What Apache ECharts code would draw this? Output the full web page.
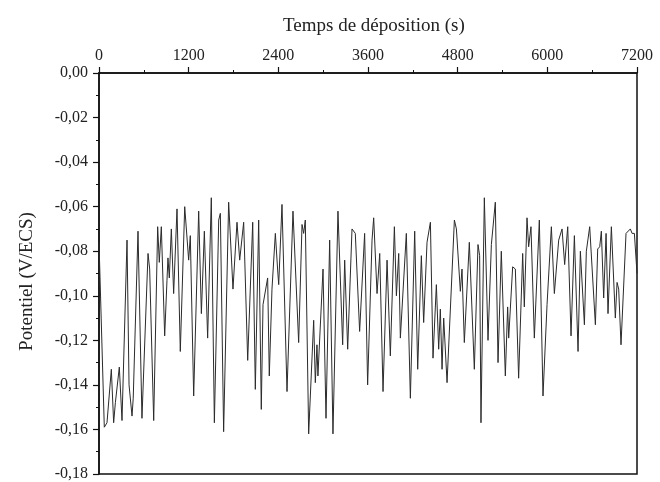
<!DOCTYPE html>
<html>
<head>
<meta charset="utf-8">
<script src="https://cdn.jsdelivr.net/npm/echarts@6/dist/echarts.min.js"></script>
<style>
  html, body { margin: 0; padding: 0; background: #fff; }
  #chart { width: 660px; height: 482px; }
</style>
</head>
<body>
<div id="chart"></div>
<script>
// temps (s) et potentiel (V/ECS)
const times = [
  0, 71, 107, 165, 196, 219, 272, 308, 375, 402, 442, 458, 522, 575, 656, 678,
  732, 785, 807, 834, 879, 910, 923, 941, 968, 999, 1044, 1088, 1147, 1200, 1222, 1267,
  1334, 1370, 1410, 1454, 1503, 1544, 1602, 1624, 1668, 1735, 1793, 1847, 1883, 1936,
  1990, 2057, 2092, 2137, 2172, 2195, 2257, 2279, 2315, 2360, 2390, 2405, 2449, 2516,
  2596, 2672, 2717, 2739, 2761, 2806, 2873, 2895, 2917, 2930, 2998, 3038, 3087, 3131,
  3198, 3261, 3288, 3328, 3386, 3430, 3488, 3555, 3595, 3654, 3676, 3721, 3757, 3801,
  3855, 3899, 3953, 3980, 4011, 4033, 4113, 4167, 4225, 4265, 4314, 4345, 4390, 4435,
  4470, 4515, 4546, 4568, 4591, 4613, 4658, 4756, 4783, 4836, 4858, 4889, 4956, 5023,
  5072, 5094, 5112, 5157, 5206, 5251, 5304, 5340, 5384, 5438, 5469, 5483, 5536, 5572,
  5616, 5670, 5692, 5728, 5750, 5781, 5826, 5893, 5942, 5996, 6054, 6094, 6152, 6197,
  6232, 6273, 6317, 6362, 6411, 6442, 6496, 6522, 6567, 6643, 6674, 6701, 6723, 6754,
  6786, 6812, 6857, 6910, 6933, 6955, 6986, 7053, 7111, 7134, 7165, 7200
]
const potentiel = [
  -0.076, -0.159, -0.157, -0.133, -0.157, -0.148, -0.132, -0.156, -0.075, -0.140, -0.154, -0.146, -0.071, -0.155, -0.081, -0.088,
  -0.156, -0.069, -0.085, -0.069, -0.118, -0.093, -0.083, -0.092, -0.070, -0.099, -0.061, -0.125, -0.060, -0.084, -0.073, -0.145,
  -0.062, -0.108, -0.071, -0.119, -0.056, -0.157, -0.066, -0.063, -0.161, -0.058, -0.097, -0.067, -0.084, -0.067,
  -0.129, -0.067, -0.142, -0.066, -0.151, -0.104, -0.092, -0.136, -0.097, -0.072, -0.088, -0.095, -0.059, -0.143,
  -0.062, -0.121, -0.068, -0.072, -0.066, -0.162, -0.111, -0.139, -0.122, -0.136, -0.088, -0.155, -0.075, -0.162,
  -0.062, -0.122, -0.084, -0.124, -0.070, -0.072, -0.116, -0.072, -0.140, -0.075, -0.065, -0.099, -0.081, -0.143,
  -0.084, -0.127, -0.069, -0.100, -0.081, -0.119, -0.072, -0.146, -0.071, -0.133, -0.082, -0.112, -0.076, -0.067,
  -0.128, -0.095, -0.124, -0.106, -0.133, -0.110, -0.139, -0.066, -0.070, -0.098, -0.088, -0.121, -0.076, -0.133,
  -0.077, -0.082, -0.157, -0.056, -0.120, -0.077, -0.058, -0.130, -0.080, -0.136, -0.105, -0.119, -0.087, -0.088,
  -0.137, -0.081, -0.105, -0.065, -0.078, -0.069, -0.119, -0.066, -0.145, -0.104, -0.069, -0.099, -0.075, -0.070,
  -0.086, -0.069, -0.118, -0.073, -0.125, -0.080, -0.113, -0.080, -0.069, -0.113, -0.079, -0.078, -0.071, -0.101,
  -0.072, -0.108, -0.069, -0.110, -0.094, -0.097, -0.122, -0.072, -0.070, -0.072, -0.072, -0.090
]

const font = 'Liberation Serif'
const ink = '#222'

const chart = echarts.init(document.getElementById('chart'))
chart.setOption({
  animation: false,
  backgroundColor: '#fff',
  title: {
    text: 'Temps de déposition (s)',
    left: 278,
    top: 12,
    textStyle: { fontFamily: font, fontSize: 19, fontWeight: 'normal', color: ink }
  },
  grid: {
    left: 99, right: 23, top: 73, bottom: 5,
    show: true, borderColor: '#111', borderWidth: 1.5, backgroundColor: 'transparent'
  },
  xAxis: {
    type: 'value',
    position: 'top',
    min: 0, max: 7200, interval: 1200,
    axisLine: { lineStyle: { color: '#111', width: 1.5 } },
    axisTick: { length: 6, lineStyle: { color: '#111', width: 1.2 } },
    minorTick: { show: true, splitNumber: 2, length: 3, lineStyle: { color: '#111' } },
    splitLine: { show: false },
    axisLabel: {
      fontFamily: font, fontSize: 16, color: ink, margin: 9,
      formatter: v => String(v)
    }
  },
  yAxis: {
    type: 'value',
    min: -0.18, max: 0, interval: 0.02,
    name: 'Potentiel (V/ECS)',
    nameLocation: 'middle',
    nameGap: 62,
    nameTextStyle: { fontFamily: font, fontSize: 19, color: ink, padding: [0, 0, 0, -16] },
    axisLine: { lineStyle: { color: '#111', width: 1.5 } },
    axisTick: { length: 6, lineStyle: { color: '#111', width: 1.2 } },
    minorTick: { show: true, splitNumber: 2, length: 3, lineStyle: { color: '#111' } },
    splitLine: { show: false },
    axisLabel: {
      fontFamily: font, fontSize: 16, color: ink, margin: 11,
      formatter: v => v.toFixed(2).replace('.', ',')
    }
  },
  series: [{
    type: 'line',
    data: times.map((t, i) => [t, potentiel[i]]),
    showSymbol: false,
    lineStyle: { color: '#2b2b2b', width: 1 }
  }]
})
</script>
</body>
</html>
